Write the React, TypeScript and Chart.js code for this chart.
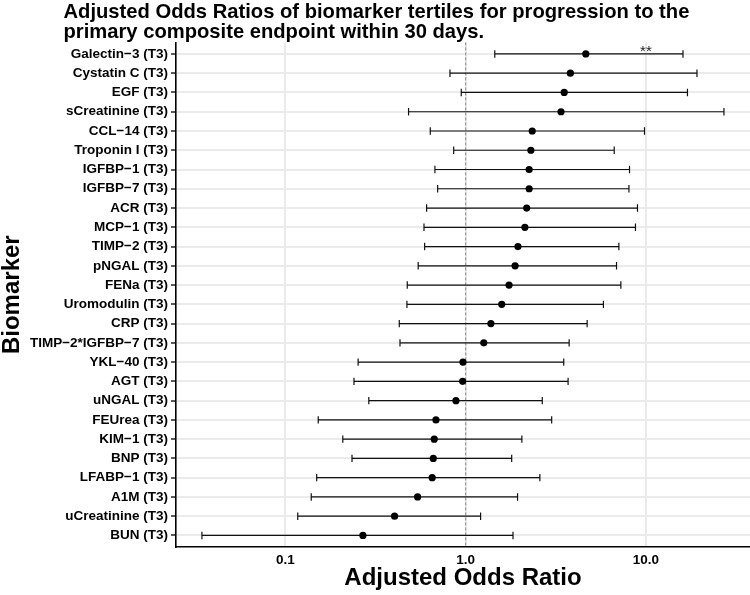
import { useEffect, useRef } from "react";
import { Chart, registerables } from "chart.js";

Chart.register(...registerables);

const FONT = "'Liberation Sans', Arial, Helvetica, sans-serif";

const titleLines = [
  "Adjusted Odds Ratios of biomarker tertiles for progression to the",
  "primary composite endpoint within 30 days.",
];
const xAxisTitle = "Adjusted Odds Ratio";
const yAxisTitle = "Biomarker";

const biomarkers = [
  "Galectin−3 (T3)",
  "Cystatin C (T3)",
  "EGF (T3)",
  "sCreatinine (T3)",
  "CCL−14 (T3)",
  "Troponin I (T3)",
  "IGFBP−1 (T3)",
  "IGFBP−7 (T3)",
  "ACR (T3)",
  "MCP−1 (T3)",
  "TIMP−2 (T3)",
  "pNGAL (T3)",
  "FENa (T3)",
  "Uromodulin (T3)",
  "CRP (T3)",
  "TIMP−2*IGFBP−7 (T3)",
  "YKL−40 (T3)",
  "AGT (T3)",
  "uNGAL (T3)",
  "FEUrea (T3)",
  "KIM−1 (T3)",
  "BNP (T3)",
  "LFABP−1 (T3)",
  "A1M (T3)",
  "uCreatinine (T3)",
  "BUN (T3)",
];

const oddsRatios = [
  4.64, 3.81, 3.52, 3.38, 2.34, 2.3, 2.25, 2.25, 2.18, 2.13, 1.95, 1.88, 1.74,
  1.585, 1.38, 1.26, 0.966, 0.962, 0.883, 0.684, 0.669, 0.661, 0.652, 0.541,
  0.403, 0.269,
];

const lowerCI = [
  1.45, 0.818, 0.945, 0.482, 0.636, 0.858, 0.675, 0.699, 0.607, 0.587, 0.592,
  0.545, 0.474, 0.472, 0.428, 0.432, 0.253, 0.24, 0.29, 0.152, 0.208, 0.234,
  0.149, 0.139, 0.117, 0.0344,
];

const upperCI = [
  16.06, 19.2, 17.0, 27.1, 9.82, 6.67, 8.11, 8.05, 8.98, 8.75, 7.08, 6.87, 7.26,
  5.81, 4.72, 3.75, 3.5, 3.7, 2.66, 3.0, 2.05, 1.8, 2.58, 1.94, 1.21, 1.83,
];

const significance = [
  "**", "", "", "", "", "", "", "", "", "", "", "", "", "", "", "", "", "", "",
  "", "", "", "", "", "", "",
];
const significanceX = 10;

const xTickValues = [0.1, 1, 10];
const xTickLabels = ["0.1", "1.0", "10.0"];
const xMin = 0.0247;
const xMax = 37.8;
const referenceValue = 1;

const forestPlugin = {
  id: "forestPlugin",
  beforeDatasetsDraw(chart: any) {
    const { ctx, chartArea, scales } = chart;
    const x = scales.x;
    const y = scales.y;
    ctx.save();
    // reference line
    const xr = x.getPixelForValue(referenceValue);
    ctx.strokeStyle = "#8a8a8a";
    ctx.lineWidth = 1;
    ctx.setLineDash([3, 2]);
    ctx.beginPath();
    ctx.moveTo(xr, chartArea.top);
    ctx.lineTo(xr, chartArea.bottom);
    ctx.stroke();
    ctx.setLineDash([]);
    // error bars
    ctx.strokeStyle = "#111";
    ctx.lineWidth = 1.2;
    biomarkers.forEach((_, i) => {
      const yp = y.getPixelForValue(i);
      const xl = x.getPixelForValue(lowerCI[i]);
      const xh = x.getPixelForValue(upperCI[i]);
      ctx.beginPath();
      ctx.moveTo(xl, yp);
      ctx.lineTo(xh, yp);
      ctx.moveTo(xl, yp - 3.7);
      ctx.lineTo(xl, yp + 3.7);
      ctx.moveTo(xh, yp - 3.7);
      ctx.lineTo(xh, yp + 3.7);
      ctx.stroke();
    });
    ctx.restore();
  },
  afterDraw(chart: any) {
    const { ctx, scales } = chart;
    const x = scales.x;
    const y = scales.y;
    ctx.save();
    // significance marks
    ctx.fillStyle = "#1a1a1a";
    ctx.font = `15px ${FONT}`;
    ctx.textAlign = "center";
    ctx.textBaseline = "alphabetic";
    significance.forEach((s, i) => {
      if (!s) return;
      ctx.fillText(s, x.getPixelForValue(significanceX), y.getPixelForValue(i) + 2);
    });
    // title
    ctx.fillStyle = "#000";
    ctx.font = `bold 20.2px ${FONT}`;
    ctx.textAlign = "left";
    ctx.fillText(titleLines[0], 63.5, 17.5);
    ctx.fillText(titleLines[1], 63.5, 38);
    ctx.restore();
  },
};

export default function App() {
  const canvasRef = useRef<HTMLCanvasElement | null>(null);

  useEffect(() => {
    if (!canvasRef.current) return;
    const chart = new Chart(canvasRef.current, {
      type: "scatter",
      data: {
        datasets: [
          {
            data: oddsRatios.map((v, i) => ({ x: v, y: i })),
            pointRadius: 3.6,
            pointHoverRadius: 3.6,
            backgroundColor: "#000",
            borderWidth: 0,
          },
        ],
      },
      options: {
        animation: false,
        responsive: false,
        maintainAspectRatio: false,
        layout: {
          autoPadding: false,
          padding: { top: 42.4, left: 0, right: 0, bottom: 0 },
        },
        plugins: {
          legend: { display: false },
          tooltip: { enabled: false },
          title: { display: false },
        },
        scales: {
          x: {
            type: "logarithmic",
            min: xMin,
            max: xMax,
            position: "bottom",
            afterBuildTicks: (scale: any) => {
              scale.ticks = xTickValues.map((v) => ({ value: v }));
            },
            afterFit: (scale: any) => {
              scale.height = 48;
              scale.paddingLeft = 0;
              scale.paddingRight = 0;
            },
            ticks: {
              autoSkip: false,
              maxRotation: 0,
              padding: 5,
              color: "#000",
              font: { family: FONT, size: 13.5, weight: "bold" },
              callback: (value: any) => {
                const idx = xTickValues.indexOf(Number(value));
                return idx >= 0 ? xTickLabels[idx] : "";
              },
            },
            grid: {
              color: "#ebebeb",
              lineWidth: 2,
              drawTicks: false,
            },
            border: { display: true, color: "#000", width: 1.6 },
            title: {
              display: true,
              text: xAxisTitle,
              color: "#000",
              font: { family: FONT, size: 24, weight: "bold", lineHeight: 1 },
              padding: { top: 0, bottom: 4.5 },
            },
          },
          y: {
            type: "linear",
            reverse: true,
            min: -0.6,
            max: biomarkers.length - 0.4,
            afterBuildTicks: (scale: any) => {
              scale.ticks = biomarkers.map((_, i) => ({ value: i }));
            },
            afterFit: (scale: any) => {
              scale.width = 176;
              scale.paddingTop = 0;
              scale.paddingBottom = 0;
            },
            ticks: {
              autoSkip: false,
              padding: 3,
              color: "#000",
              font: { family: FONT, size: 13.5, weight: "bold" },
              callback: (value: any) => biomarkers[Number(value)] ?? "",
            },
            grid: {
              color: "#ebebeb",
              lineWidth: 2,
              drawTicks: true,
              tickLength: 5,
              tickColor: "#000",
              tickWidth: 1.3,
            },
            border: { display: true, color: "#000", width: 1.6 },
            title: {
              display: true,
              text: yAxisTitle,
              color: "#000",
              font: { family: FONT, size: 24, weight: "bold", lineHeight: 1 },
              padding: { top: 0, bottom: 0 },
            },
          },
        },
      },
      plugins: [forestPlugin],
    } as any);
    return () => chart.destroy();
  }, []);

  return (
    <div style={{ position: "absolute", left: 0, top: 0, width: 750, height: 595, background: "#fff" }}>
      <canvas ref={canvasRef} width={750} height={595} style={{ width: 750, height: 595 }} />
    </div>
  );
}
